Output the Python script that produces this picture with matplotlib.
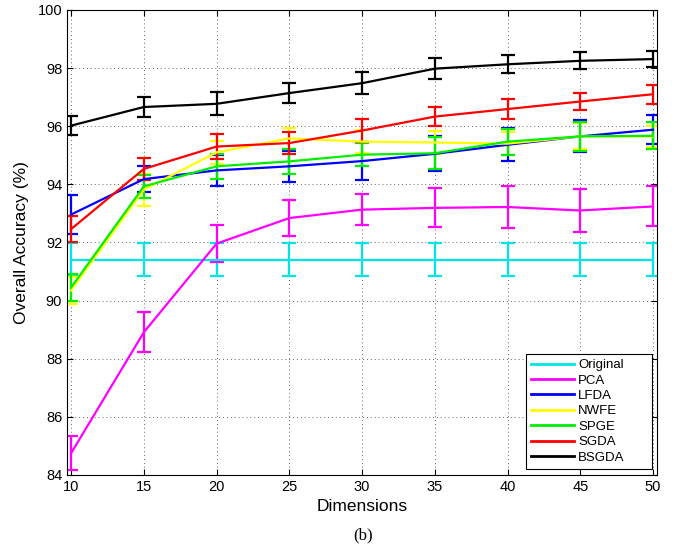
# Overall accuracy vs. number of dimensions, mean +/- std over repeated runs
import numpy as np
import matplotlib
matplotlib.use("Agg")
import matplotlib.pyplot as plt
from matplotlib.lines import Line2D

plt.rcParams["font.family"] = ["Liberation Sans", "DejaVu Sans"]

dims = [10, 15, 20, 25, 30, 35, 40, 45, 50]

methods = ["Original", "PCA", "LFDA", "NWFE", "SPGE", "SGDA", "BSGDA"]
colors = ["#00e5e5", "#ff00ff", "#0000ff", "#ffff00", "#00ee00", "#ff0000", "#000000"]

# mean accuracy (%)
acc_original = [91.41, 91.41, 91.41, 91.41, 91.41, 91.41, 91.41, 91.41, 91.41]
acc_pca = [84.75, 88.91, 91.96, 92.84, 93.13, 93.19, 93.22, 93.10, 93.24]
acc_lfda = [92.96, 94.18, 94.48, 94.62, 94.80, 95.05, 95.36, 95.65, 95.88]
acc_nwfe = [90.35, 93.82, 95.10, 95.58, 95.47, 95.44, 95.40, 95.65, 95.65]
acc_spge = [90.45, 93.93, 94.62, 94.79, 95.02, 95.07, 95.47, 95.65, 95.67]
acc_sgda = [92.46, 94.53, 95.30, 95.42, 95.85, 96.33, 96.59, 96.85, 97.10]
acc_bsgda = [96.02, 96.66, 96.77, 97.14, 97.48, 97.98, 98.13, 98.25, 98.31]

# standard deviation (%)
std_original = [0.57, 0.57, 0.57, 0.57, 0.57, 0.57, 0.57, 0.57, 0.57]
std_pca = [0.58, 0.69, 0.64, 0.61, 0.53, 0.67, 0.73, 0.73, 0.69]
std_lfda = [0.67, 0.45, 0.53, 0.54, 0.65, 0.60, 0.57, 0.55, 0.50]
std_nwfe = [0.45, 0.55, 0.40, 0.36, 0.40, 0.40, 0.40, 0.45, 0.35]
std_spge = [0.45, 0.40, 0.43, 0.43, 0.40, 0.55, 0.45, 0.50, 0.46]
std_sgda = [0.46, 0.38, 0.43, 0.39, 0.40, 0.33, 0.33, 0.29, 0.33]
std_bsgda = [0.33, 0.34, 0.40, 0.34, 0.38, 0.35, 0.31, 0.29, 0.27]

means = [acc_original, acc_pca, acc_lfda, acc_nwfe, acc_spge, acc_sgda, acc_bsgda]
stds = [std_original, std_pca, std_lfda, std_nwfe, std_spge, std_sgda, std_bsgda]

fig = plt.figure(figsize=(6.79, 5.5), dpi=100)
ax = fig.add_axes([0.0987, 0.1364, 0.869, 0.8455])

for name, m, s, c in zip(methods, means, stds, colors):
    ax.errorbar(dims, m, yerr=s, color=c, lw=1.6, elinewidth=1.6,
                capsize=5, capthick=1.6)

ax.set_xlim(9.72, 50.28)
ax.set_ylim(84, 100)
ax.set_xticks(dims)
ax.set_yticks(np.arange(84, 101, 2))
ax.grid(True, linestyle=(0, (1, 3)), color="#666666", linewidth=0.7)
ax.tick_params(direction="in", labelsize=10.5, length=4, top=True, right=True)
for sp in ax.spines.values():
    sp.set_linewidth(0.8)

ax.set_xlabel("Dimensions", fontsize=12.5, labelpad=4)
ax.set_ylabel("Overall Accuracy (%)", fontsize=12.5, labelpad=6)

# plain line handles in the legend (no error-bar glyphs); wide box, entries left-aligned
handles = [Line2D([], [], color=c, lw=2.0) for c in colors]
leg = ax.legend(handles, methods, loc="lower left", mode="expand",
                bbox_to_anchor=(0.778, 0.013, 0.2135, 0.25), borderaxespad=0,
                fontsize=9.5, handlelength=3.2, fancybox=False, framealpha=1,
                edgecolor="black", borderpad=0.4, labelspacing=0.24,
                handletextpad=0.35)
leg.get_frame().set_linewidth(0.8)

fig.text(0.535, 0.012, "(b)", fontsize=12, family=["Liberation Serif", "DejaVu Serif"],
         ha="center", va="bottom")

fig.savefig("out.png", dpi=100)
